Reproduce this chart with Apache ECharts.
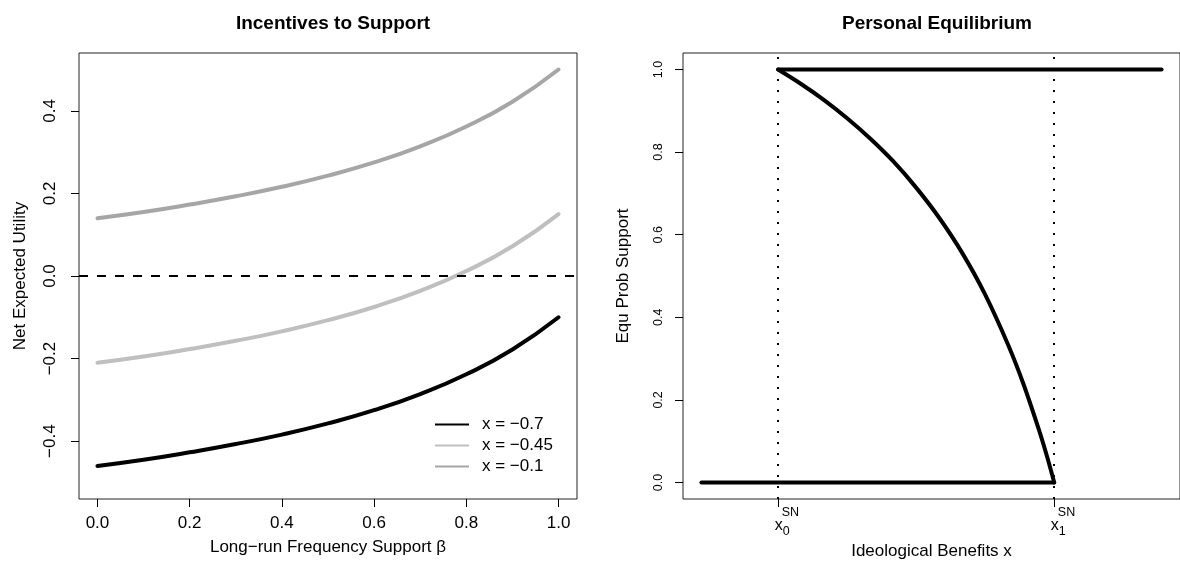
<!DOCTYPE html>
<html>
<head>
<meta charset="utf-8">
<script src="https://cdn.jsdelivr.net/npm/echarts@6/dist/echarts.min.js"></script>
<style>
  html, body { margin: 0; background: #fff; }
  #main { width: 1180px; height: 569px; }
</style>
</head>
<body>
<div id="main"></div>
<script>
// left panel: net expected utility against long-run frequency of support
var beta = [0, 0.1, 0.2, 0.3, 0.4, 0.5, 0.6, 0.7, 0.8, 0.9, 1];
var utilLow = [-0.46, -0.445, -0.427, -0.407, -0.384, -0.357, -0.325, -0.286, -0.238, -0.178, -0.10];   // x = -0.7
var utilMid = [-0.21, -0.195, -0.177, -0.157, -0.134, -0.107, -0.075, -0.036, 0.012, 0.072, 0.15];     // x = -0.45
var utilHigh = [0.14, 0.155, 0.173, 0.193, 0.216, 0.243, 0.275, 0.314, 0.362, 0.422, 0.50];           // x = -0.1
var seriesNames = ['x = \u22120.7', 'x = \u22120.45', 'x = \u22120.1'];
var leftXTicks = [0, 0.2, 0.4, 0.6, 0.8, 1];
var leftYTicks = [-0.4, -0.2, 0, 0.2, 0.4];

// right panel: equilibrium probability of support against ideological benefits
var noSupportX = [-0.7, -0.24];
var noSupportY = [0, 0];
var fullSupportX = [-0.6, -0.1];
var fullSupportY = [1, 1];
var mixedX = [-0.6, -0.57, -0.54, -0.51, -0.48, -0.45, -0.42, -0.39, -0.36, -0.33, -0.30, -0.28, -0.26, -0.25, -0.24];
var mixedY = [1, 0.965, 0.926, 0.882, 0.833, 0.778, 0.714, 0.641, 0.556, 0.455, 0.333, 0.238, 0.128, 0.067, 0];
var rightYTicks = [0, 0.2, 0.4, 0.6, 0.8, 1];
var snTicks = [-0.6, -0.24];
var snIndex = ['0', '1'];

var FONT = '"Liberation Sans", Arial, sans-serif';

function zip(xs, ys) {
  return xs.map(function (x, i) { return [x, ys[i]]; });
}
function minus(v) {
  return v.toFixed(1).replace('-', '\u2212');
}

var chartDom = document.getElementById('main');
var myChart = echarts.init(chartDom);

var tick = { show: true, length: 8, inside: false, lineStyle: { color: '#000', width: 1 } };
var noLine = { show: false, onZero: false };
var HIDE = 'rgba(0,0,0,0)';

var option = {
  animation: false,
  textStyle: { fontFamily: FONT, color: '#000' },
  title: [
    { text: 'Incentives to Support', left: 328, top: 9, textAlign: 'center',
      textStyle: { fontFamily: FONT, fontSize: 19, fontWeight: 'bold', color: '#000' } },
    { text: 'Personal Equilibrium', left: 932, top: 9, textAlign: 'center',
      textStyle: { fontFamily: FONT, fontSize: 19, fontWeight: 'bold', color: '#000' } }
  ],
  legend: {
    data: seriesNames,
    orient: 'vertical',
    left: 430,
    top: 409,
    icon: 'rect',
    itemWidth: 34,
    itemHeight: 2,
    itemGap: 0,
    selectedMode: false,
    textStyle: { fontFamily: FONT, fontSize: 17, color: '#000', lineHeight: 21, padding: [0, 0, 0, 8] }
  },
  grid: [
    { left: 79, top: 53, width: 498, height: 446, show: true, borderColor: '#222', borderWidth: 1, backgroundColor: 'transparent' },
    { left: 683, top: 53, width: 498, height: 446, show: true, borderColor: '#222', borderWidth: 1, backgroundColor: 'transparent' }
  ],
  xAxis: [
    {
      gridIndex: 0, type: 'value', min: -0.04, max: 1.04,
      name: 'Long\u2212run Frequency Support \u03b2', nameLocation: 'middle', nameGap: 40,
      nameTextStyle: { fontFamily: FONT, fontSize: 17, color: '#000' },
      axisLine: noLine, splitLine: { show: false },
      axisTick: Object.assign({ customValues: leftXTicks }, tick),
      axisLabel: { customValues: leftXTicks, margin: 16, fontSize: 17, color: '#000', fontFamily: FONT,
        formatter: function (v) { return v.toFixed(1); } }
    },
    {
      gridIndex: 1, type: 'value', min: -0.724, max: -0.076,
      name: 'Ideological Benefits x', nameLocation: 'middle', nameGap: 41,
      nameTextStyle: { fontFamily: FONT, fontSize: 17, color: '#000' },
      axisLine: noLine, splitLine: { show: false },
      axisTick: Object.assign({ customValues: snTicks }, tick),
      axisLabel: {
        customValues: snTicks, margin: 8, color: '#000', fontFamily: FONT,
        formatter: function (v) {
          var i = Math.abs(v - snTicks[0]) < Math.abs(v - snTicks[1]) ? 0 : 1;
          return '{hsup|SN}{hx|x}{sup|SN}\n{hsup2|SN}{x|x}{sub|' + snIndex[i] + '}{hsub|N}';
        },
        rich: {
          hsup: { fontSize: 12, lineHeight: 11, color: HIDE, fontFamily: FONT },
          hx: { fontSize: 16, lineHeight: 11, color: HIDE, fontFamily: FONT },
          sup: { fontSize: 12.5, lineHeight: 11, color: '#000', fontFamily: FONT },
          hsup2: { fontSize: 12, lineHeight: 12, color: HIDE, fontFamily: FONT, verticalAlign: 'top' },
          x: { fontSize: 16, lineHeight: 12, color: '#000', fontFamily: FONT, verticalAlign: 'top' },
          sub: { fontSize: 12.5, lineHeight: 12, padding: [7, 0, 0, 0], color: '#000', fontFamily: FONT, verticalAlign: 'top' },
          hsub: { fontSize: 12, lineHeight: 12, color: HIDE, fontFamily: FONT, verticalAlign: 'top' }
        }
      }
    }
  ],
  yAxis: [
    {
      gridIndex: 0, type: 'value', min: -0.54, max: 0.54,
      name: 'Net Expected Utility', nameLocation: 'middle', nameGap: 50,
      nameTextStyle: { fontFamily: FONT, fontSize: 17, color: '#000' },
      axisLine: noLine, splitLine: { show: false },
      axisTick: Object.assign({ customValues: leftYTicks }, tick),
      axisLabel: { customValues: leftYTicks, rotate: 90, margin: 20, fontSize: 17, color: '#000', fontFamily: FONT,
        formatter: minus }
    },
    {
      gridIndex: 1, type: 'value', min: -0.04, max: 1.04,
      name: 'Equ Prob Support', nameLocation: 'middle', nameGap: 51,
      nameTextStyle: { fontFamily: FONT, fontSize: 17, color: '#000' },
      axisLine: noLine, splitLine: { show: false },
      axisTick: Object.assign({ customValues: rightYTicks }, tick),
      axisLabel: { customValues: rightYTicks, rotate: 90, margin: 18, fontSize: 12.5, color: '#000', fontFamily: FONT,
        formatter: minus }
    }
  ],
  series: [
    {
      name: seriesNames[0], type: 'line', xAxisIndex: 0, yAxisIndex: 0,
      data: zip(beta, utilLow), smooth: true, showSymbol: false, symbol: 'none',
      color: '#000', lineStyle: { color: '#000', width: 4, cap: 'round' },
      markLine: {
        silent: true, symbol: ['none', 'none'], label: { show: false },
        lineStyle: { color: '#000', width: 2, type: [9, 9] },
        data: [{ yAxis: 0 }]
      }
    },
    {
      name: seriesNames[1], type: 'line', xAxisIndex: 0, yAxisIndex: 0,
      data: zip(beta, utilMid), smooth: true, showSymbol: false, symbol: 'none',
      color: '#bfbfbf', lineStyle: { color: '#bfbfbf', width: 4, cap: 'round' }
    },
    {
      name: seriesNames[2], type: 'line', xAxisIndex: 0, yAxisIndex: 0,
      data: zip(beta, utilHigh), smooth: true, showSymbol: false, symbol: 'none',
      color: '#a6a6a6', lineStyle: { color: '#a6a6a6', width: 4, cap: 'round' }
    },
    {
      name: 'noSupport', type: 'line', xAxisIndex: 1, yAxisIndex: 1,
      data: zip(noSupportX, noSupportY), showSymbol: false, symbol: 'none',
      lineStyle: { color: '#000', width: 4, cap: 'round' },
      markLine: {
        silent: true, symbol: ['none', 'none'], label: { show: false },
        lineStyle: { color: '#000', width: 2, type: [2, 9] },
        data: [{ xAxis: snTicks[0] }, { xAxis: snTicks[1] }]
      }
    },
    {
      name: 'fullSupport', type: 'line', xAxisIndex: 1, yAxisIndex: 1,
      data: zip(fullSupportX, fullSupportY), showSymbol: false, symbol: 'none',
      lineStyle: { color: '#000', width: 4, cap: 'round' }
    },
    {
      name: 'mixed', type: 'line', xAxisIndex: 1, yAxisIndex: 1,
      data: zip(mixedX, mixedY), smooth: 0.3, showSymbol: false, symbol: 'none',
      lineStyle: { color: '#000', width: 4, cap: 'round', join: 'round' }
    }
  ]
};

option && myChart.setOption(option);
</script>
</body>
</html>
